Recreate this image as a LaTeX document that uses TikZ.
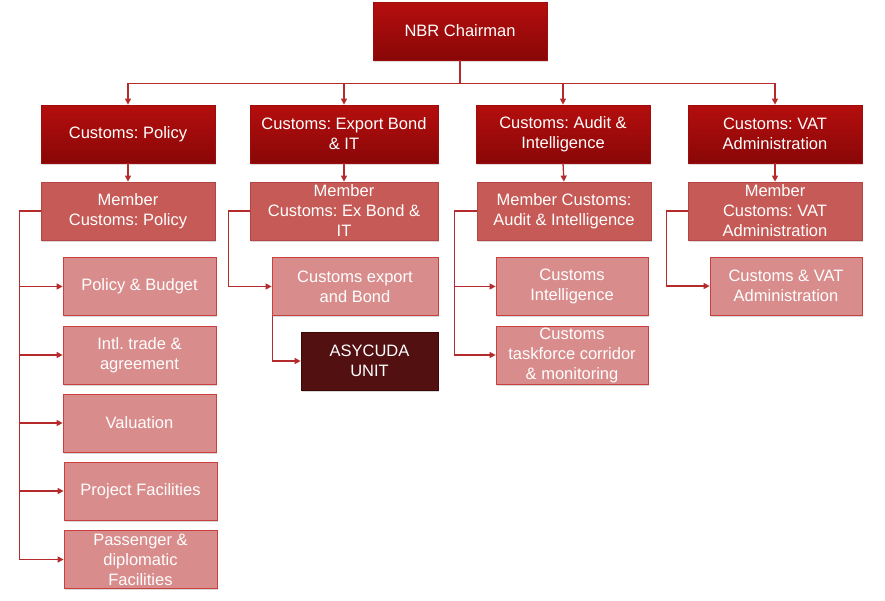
\documentclass[tikz,border=0pt]{standalone}
\usepackage{fontspec}
\setmainfont{Liberation Sans}
\frenchspacing
\usetikzlibrary{arrows.meta,shadows}
\definecolor{topred}{HTML}{B50E0E}
\definecolor{botred}{HTML}{890707}
\definecolor{lonered}{HTML}{A00B0B}
\definecolor{memfill}{HTML}{C65A56}
\definecolor{memline}{HTML}{B54542}
\definecolor{subfill}{HTML}{D88C8B}
\definecolor{subline}{HTML}{C9403F}
\definecolor{asyfill}{HTML}{521010}
\definecolor{asyline}{HTML}{3A0808}
\definecolor{conn}{HTML}{B52A2A}
\tikzset{
  box/.style={rectangle, inner sep=0pt, text=white, align=center,
    font=\fontsize{16.5}{20}\selectfont, line width=0.8pt,
    drop shadow={shadow xshift=1pt, shadow yshift=-1.5pt, opacity=0.3}},
  headbox/.style={box, top color=topred, bottom color=botred, draw=lonered,
    minimum height=58pt},
  membox/.style={box, fill=memfill, draw=memline, minimum height=58pt},
  subbox/.style={box, fill=subfill, draw=subline, minimum height=58pt},
  asybox/.style={box, fill=asyfill, draw=asyline, minimum height=58pt},
  conline/.style={draw=conn, line width=1.3pt},
  arr/.style={conline, -{Triangle[length=6pt,width=6pt]}},
}
\begin{document}
\begin{tikzpicture}[x=1pt,y=-1pt]
\useasboundingbox (0,0) rectangle (885,600);
% top
\node[headbox, minimum width=174pt] (ch) at (460,31) {NBR Chairman};
% level 1
\node[headbox, minimum width=174pt] (pol) at (128,134) {Customs: Policy};
\node[headbox, minimum width=188pt] (exb) at (344,134) {Customs: Export Bond\\\& IT};
\node[headbox, minimum width=174pt] (aud) at (563,134) {Customs: Audit \&\\Intelligence};
\node[headbox, minimum width=174pt] (vat) at (775,134) {Customs: VAT\\Administration};
% level 2
\node[membox, minimum width=174pt] (polm) at (128,211) {Member\\Customs: Policy};
\node[membox, minimum width=188pt] (exbm) at (344,211) {Member\\Customs: Ex Bond \&\\IT};
\node[membox, minimum width=174pt] (audm) at (564,211) {Member Customs:\\Audit \& Intelligence};
\node[membox, minimum width=174pt] (vatm) at (775,211) {Member\\Customs: VAT\\Administration};
% policy children
\node[subbox, minimum width=153pt] (pb) at (139.5,286.5) {Policy \& Budget};
\node[subbox, minimum width=153pt] (it) at (139.5,355) {Intl. trade \&\\agreement};
\node[subbox, minimum width=153pt] (val) at (139.5,423) {Valuation};
\node[subbox, minimum width=153pt] (pf) at (140.5,491) {Project Facilities};
\node[subbox, minimum width=153pt] (pd) at (140.5,559.5) {Passenger \&\\diplomatic\\Facilities};
% export children
\node[subbox, minimum width=166pt] (ceb) at (355,286.5) {Customs export\\and Bond};
\node[asybox, minimum width=137pt] (asy) at (369.5,361) {ASYCUDA\\UNIT};
% audit children
\node[subbox, minimum width=152pt] (cin) at (572,286.5) {Customs\\Intelligence};
\node[subbox, minimum width=152pt] (ctf) at (572,355) {Customs\\taskforce corridor\\\& monitoring};
% vat child
\node[subbox, minimum width=152pt] (cva) at (786,286) {Customs \& VAT\\Administration};
% connectors: chairman to level 1
\draw[arr] (ch.south) -- ++(0,23) -| (pol.north);
\draw[arr] (ch.south) -- ++(0,23) -| (exb.north);
\draw[arr] (ch.south) -- ++(0,23) -| (aud.north);
\draw[arr] (ch.south) -- ++(0,23) -| (vat.north);
% level 1 to members
\draw[arr] (pol.south) -- (polm.north);
\draw[arr] (exb.south) -- (exbm.north);
\draw[arr] (aud.south) -- (audm.north);
\draw[arr] (vat.south) -- (vatm.north);
% policy branch
\draw[arr] (polm.west) -- ++(-21,0) |- (pb.west);
\draw[arr] (polm.west) -- ++(-21,0) |- (it.west);
\draw[arr] (polm.west) -- ++(-21,0) |- (val.west);
\draw[arr] (polm.west) -- ++(-21,0) |- (pf.west);
\draw[arr] (polm.west) -- ++(-21,0) |- (pd.west);
% export branch
\draw[arr] (exbm.west) -- ++(-21,0) |- (ceb.west);
\draw[arr] ([xshift=1pt]ceb.south west) |- (asy.west);
% audit branch
\draw[arr] (audm.west) -- ++(-22,0) |- (cin.west);
\draw[arr] (audm.west) -- ++(-22,0) |- (ctf.west);
% vat branch
\draw[arr] (vatm.west) -- ++(-21,0) |- (cva.west);
\end{tikzpicture}
\end{document}
